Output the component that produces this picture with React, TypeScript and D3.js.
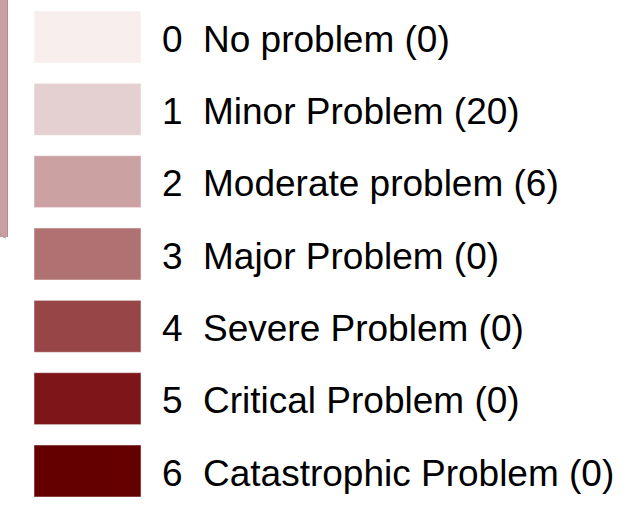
import { useRef, useEffect } from 'react';
import * as d3 from 'd3';

const levels = [0, 1, 2, 3, 4, 5, 6];
const labels = [
    'No problem (0)',
    'Minor Problem (20)',
    'Moderate problem (6)',
    'Major Problem (0)',
    'Severe Problem (0)',
    'Critical Problem (0)',
    'Catastrophic Problem (0)',
];
const colors = ['#f8eeee', '#e4d0d0', '#cba1a2', '#b07172', '#984548', '#7e1619', '#650000'];

const LegendChart = () => {
    const svgRef = useRef<SVGSVGElement | null>(null);

    useEffect(() => {
        const svgElement = svgRef.current;
        if (!svgElement) return;

        const width = 636;
        const height = 505;
        const svg = d3.select(svgElement)
            .attr('width', width)
            .attr('height', height);

        svg.selectAll('*').remove();

        // top of each legend row
        const y = d3.scaleLinear()
            .domain([0, levels.length - 1])
            .range([11, 445]);
        const swatchH = 52;

        // cut-off edge of the chart behind the legend
        svg.append('rect')
            .attr('x', 0)
            .attr('y', 0)
            .attr('width', 7)
            .attr('height', 237)
            .attr('fill', '#c9a0a2');
        svg.append('line')
            .attr('x1', 7.5).attr('x2', 7.5)
            .attr('y1', 0).attr('y2', 237)
            .attr('stroke', '#b98a8c')
            .attr('stroke-width', 1);
        svg.append('path')
            .attr('d', 'M0,234 L3,237 L6,238')
            .attr('fill', 'none')
            .attr('stroke', '#999')
            .attr('stroke-width', 1);

        const rows = svg.append('g')
            .selectAll('g')
            .data(levels)
            .join('g')
            .attr('transform', d => `translate(0, ${y(d)})`);

        rows.append('rect')
            .attr('x', 34)
            .attr('y', 0)
            .attr('width', 107)
            .attr('height', swatchH)
            .attr('fill', d => colors[d])
            .attr('stroke', '#ffffff')
            .attr('stroke-opacity', 0.5)
            .attr('stroke-width', 1);

        rows.append('text')
            .attr('x', 162)
            .attr('y', 40.5)
            .text(d => String(d))
            .style('font-family', '"Liberation Sans", Arial, sans-serif')
            .style('font-size', '37px')
            .style('fill', '#000');

        rows.append('text')
            .attr('x', 203)
            .attr('y', 40.5)
            .text(d => labels[d])
            .style('font-family', '"Liberation Sans", Arial, sans-serif')
            .style('font-size', '37px')
            .style('fill', '#000');
    }, []);

    return (
        <svg ref={svgRef} style={{ display: 'block', position: 'absolute', left: 0, top: 0 }}></svg>
    );
};

export default function App() {
    return <LegendChart />;
}
